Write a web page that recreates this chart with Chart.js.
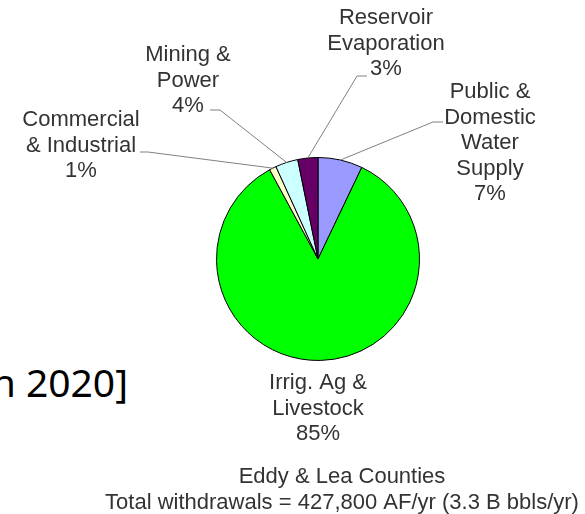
<!DOCTYPE html>
<html lang="en">
<head>
  <meta charset="UTF-8" />
  <title>Eddy & Lea Counties • Water Withdrawals</title>
  <script src="https://cdn.jsdelivr.net/npm/chart.js"></script>
  <style>
    * { margin: 0; padding: 0; box-sizing: border-box; }
    body {
      width: 585px;
      height: 514px;
      background: #fff;
      position: relative;
      overflow: hidden;
    }
    #chart { position: absolute; left: 0; top: 0; }
    .slide-text {
      position: absolute;
      right: 457px;
      top: 362px;
      font-family: 'Noto Sans', 'Open Sans', sans-serif;
      font-size: 39px;
      line-height: 39px;
      color: #000;
      white-space: nowrap;
    }
  </style>
</head>
<body>

<div class="slide-text">n 2020]</div>
<canvas id="chart" width="585" height="514"></canvas>

<script>
  // Data (clockwise from 12 o'clock)
  const categories = ["Public & Domestic Water Supply", "Irrig. Ag & Livestock", "Commercial & Industrial", "Mining & Power", "Reservoir Evaporation"];
  const labelLines = [["Public &", "Domestic", "Water", "Supply"], ["Irrig. Ag &", "Livestock"], ["Commercial", "& Industrial"], ["Mining &", "Power"], ["Reservoir", "Evaporation"]];
  const shares = [7.1, 85.0, 1.1, 3.6, 3.2];
  const sliceColors = ["#9999ff", "#00ff00", "#ffffcc", "#ccffff", "#660066"];
  const footerLines = ["Eddy & Lea Counties", "Total withdrawals = 427,800 AF/yr (3.3 B bbls/yr)"];

  // where each label sits + the little elbow of its leader line
  const labelSpots = [
    { x: 490, y: 92, elbow: [443, 122, 433, 122] },
    { x: 318, y: 383 },
    { x: 81, y: 120, elbow: [140, 152, 148, 152] },
    { x: 188, y: 55, elbow: [210, 110, 220, 110] },
    { x: 386, y: 18, elbow: [367, 76, 357, 76] }
  ];

  const FONT = "22px 'Liberation Sans', Arial, sans-serif";
  const LINE_H = 25.5;

  // draws slice labels, leader lines and the footer
  const pieLabels = {
    id: "pieLabels",
    afterDatasetsDraw(chart) {
      const ctx = chart.ctx;
      const meta = chart.getDatasetMeta(0);
      ctx.save();
      ctx.font = FONT;
      ctx.textAlign = "center";
      ctx.textBaseline = "middle";

      meta.data.forEach((arc, i) => {
        const spot = labelSpots[i];
        const { x, y, startAngle, endAngle, outerRadius } = arc.getProps(["x", "y", "startAngle", "endAngle", "outerRadius"], true);
        const mid = (startAngle + endAngle) / 2;

        if (spot.elbow) {
          const [x1, y1, x2, y2] = spot.elbow;
          ctx.strokeStyle = "#808080";
          ctx.lineWidth = 1;
          ctx.beginPath();
          ctx.moveTo(x1, y1);
          ctx.lineTo(x2, y2);
          ctx.lineTo(x + Math.cos(mid) * outerRadius, y + Math.sin(mid) * outerRadius);
          ctx.stroke();
        }

        const lines = labelLines[i].concat([Math.round(shares[i]) + "%"]);
        ctx.fillStyle = "#333";
        lines.forEach((t, k) => ctx.fillText(t, spot.x, spot.y + k * LINE_H));
      });

      footerLines.forEach((t, k) => ctx.fillText(t, 342, 477 + k * LINE_H));
      ctx.restore();
    }
  };

  new Chart(document.getElementById("chart"), {
    type: "pie",
    data: {
      labels: categories,
      datasets: [{
        data: shares,
        backgroundColor: sliceColors,
        borderColor: "#000",
        borderWidth: 1
      }]
    },
    options: {
      responsive: false,
      animation: false,
      layout: { padding: { left: 216, top: 157, right: 165, bottom: 153 } },
      plugins: {
        legend: { display: false },
        tooltip: { enabled: false }
      }
    },
    plugins: [pieLabels]
  });
</script>
</body>
</html>
